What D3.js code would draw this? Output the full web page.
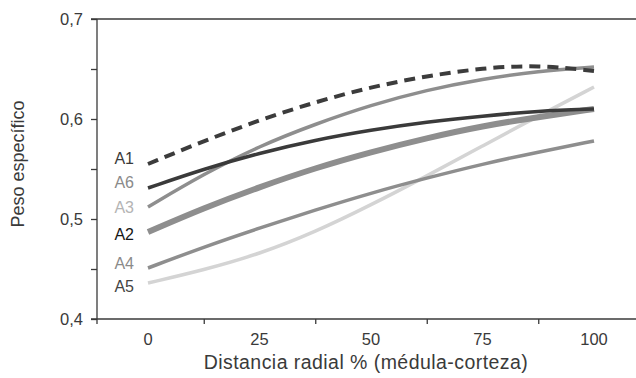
<!DOCTYPE html>
<html>
<head>
<meta charset="utf-8">
<script src="https://cdn.jsdelivr.net/npm/d3@7"></script>
<style>
  body { margin: 0; background: #fff; }
  text { font-family: "Liberation Sans", Arial, sans-serif; }
</style>
</head>
<body>
<div id="chart"></div>
<script>

// distancia radial (%) where each curve was read
var distancias = [0, 12.5, 25, 37.5, 50, 62.5, 75, 87.5, 100];

var serieA1 = [0.555, 0.578, 0.599, 0.617, 0.632, 0.643, 0.651, 0.654, 0.648];
var serieA6 = [0.531, 0.550, 0.566, 0.579, 0.589, 0.597, 0.603, 0.608, 0.610];
var serieA3 = [0.512, 0.545, 0.573, 0.595, 0.614, 0.629, 0.640, 0.648, 0.652];
var serieA2 = [0.487, 0.511, 0.532, 0.551, 0.567, 0.581, 0.593, 0.602, 0.610];
var serieA4 = [0.451, 0.472, 0.491, 0.509, 0.526, 0.541, 0.555, 0.567, 0.578];
var serieA5 = [0.436, 0.449, 0.465, 0.487, 0.514, 0.543, 0.573, 0.603, 0.632];

var nombres = ["A1", "A6", "A3", "A2", "A4", "A5"];
var xTickLabels = [0, 25, 50, 75, 100];
var xTickMarks = [12.5, 37.5, 62.5, 87.5];
var yTickLabels = [0.4, 0.5, 0.6, 0.7];
var yTickMarks = [0.4, 0.45, 0.5, 0.55, 0.6, 0.65, 0.7];

var valores = [serieA1, serieA6, serieA3, serieA2, serieA4, serieA5];

// line look per series
var estilos = {
    A1: { color: "#3c3c3c", width: 4, dash: "11,7", label: "#3a3a3a" },
    A6: { color: "#3a3a3a", width: 3.5, dash: null, label: "#8a8a8a" },
    A3: { color: "#8e8e8e", width: 3.5, dash: null, label: "#b4b4b4" },
    A2: { color: "#8e8e8e", width: 6, dash: null, label: "#161616" },
    A4: { color: "#8e8e8e", width: 3.5, dash: null, label: "#8a8a8a" },
    A5: { color: "#d4d4d4", width: 3.5, dash: null, label: "#444444" }
};

var width = 636, height = 378;
var plotLeft = 97, plotTop = 19, plotBottom = 319;

var svg = d3.select("#chart").append("svg")
    .attr("width", width)
    .attr("height", height);

var x = d3.scaleLinear().domain([0, 100]).range([148, 594]);
var y = d3.scaleLinear().domain([0.4, 0.7]).range([plotBottom, plotTop]);

var ink = "#3a3a3a";

// top frame line
svg.append("line")
    .attr("x1", plotLeft - 6).attr("x2", width)
    .attr("y1", y(0.7)).attr("y2", y(0.7))
    .attr("stroke", ink).attr("stroke-width", 1.3);

// y axis: ticks only, then labels
var yAxis = svg.append("g")
    .attr("transform", "translate(" + plotLeft + ",0)")
    .call(d3.axisLeft(y).tickValues(yTickMarks).tickSize(6).tickFormat(""));
yAxis.select(".domain").attr("stroke", ink).attr("stroke-width", 1.3).attr("d", "M0," + plotTop + "V" + (plotBottom + 5));
yAxis.selectAll(".tick line").attr("stroke", ink).attr("stroke-width", 1.3);

svg.append("g").selectAll("text")
    .data(yTickLabels)
    .join("text")
    .attr("x", 83)
    .attr("y", function (d) { return y(d); })
    .attr("dy", "0.36em")
    .attr("text-anchor", "end")
    .attr("font-size", 16.5)
    .attr("fill", ink)
    .text(function (d) { return d3.format(".1f")(d).replace(".", ","); });

// x axis
var xAxis = svg.append("g")
    .attr("transform", "translate(0," + plotBottom + ")")
    .call(d3.axisBottom(x).tickValues(xTickMarks).tickSize(5).tickFormat(""));
xAxis.select(".domain").attr("stroke", ink).attr("stroke-width", 1.3).attr("d", "M" + (plotLeft - 6) + ",0H" + width);
xAxis.selectAll(".tick line").attr("stroke", ink).attr("stroke-width", 1.3);

svg.append("g").selectAll("text")
    .data(xTickLabels)
    .join("text")
    .attr("x", function (d) { return x(d); })
    .attr("y", 345)
    .attr("text-anchor", "middle")
    .attr("font-size", 16.5)
    .attr("fill", ink)
    .text(function (d) { return d; });

// axis titles
svg.append("text")
    .attr("x", 366)
    .attr("y", 369)
    .attr("text-anchor", "middle")
    .attr("font-size", 19.5)
    .attr("letter-spacing", 0.45)
    .attr("fill", ink)
    .text("Distancia radial % (médula-corteza)");

svg.append("text")
    .attr("transform", "translate(24,164) rotate(-90)")
    .attr("text-anchor", "middle")
    .attr("font-size", 18)
    .attr("fill", ink)
    .text("Peso específico");

// curves (basis keeps them smooth like the fitted originals)
var line = d3.line()
    .x(function (d) { return x(d[0]); })
    .y(function (d) { return y(d[1]); })
    .curve(d3.curveBasis);

var series = nombres.map(function (n, i) {
    return { name: n, pts: distancias.map(function (dd, j) { return [dd, valores[i][j]]; }) };
});

// draw order: light ones first so darker sit on top
var orden = ["A5", "A4", "A2", "A3", "A6", "A1"];
orden.forEach(function (n) {
    var s = series.find(function (d) { return d.name === n; });
    var e = estilos[n];
    svg.append("path")
        .datum(s.pts)
        .attr("d", line)
        .attr("fill", "none")
        .attr("stroke", e.color)
        .attr("stroke-width", e.width)
        .attr("stroke-dasharray", e.dash);
});

// series labels next to start
var labelY = { A1: 158, A6: 182, A3: 207, A2: 234, A4: 263, A5: 286 };
svg.append("g").selectAll("text")
    .data(nombres)
    .join("text")
    .attr("x", 134)
    .attr("y", function (d) { return labelY[d]; })
    .attr("dy", "0.36em")
    .attr("text-anchor", "end")
    .attr("font-size", 16)
    .attr("fill", function (d) { return estilos[d].label; })
    .text(function (d) { return d; });

</script>
</body>
</html>
